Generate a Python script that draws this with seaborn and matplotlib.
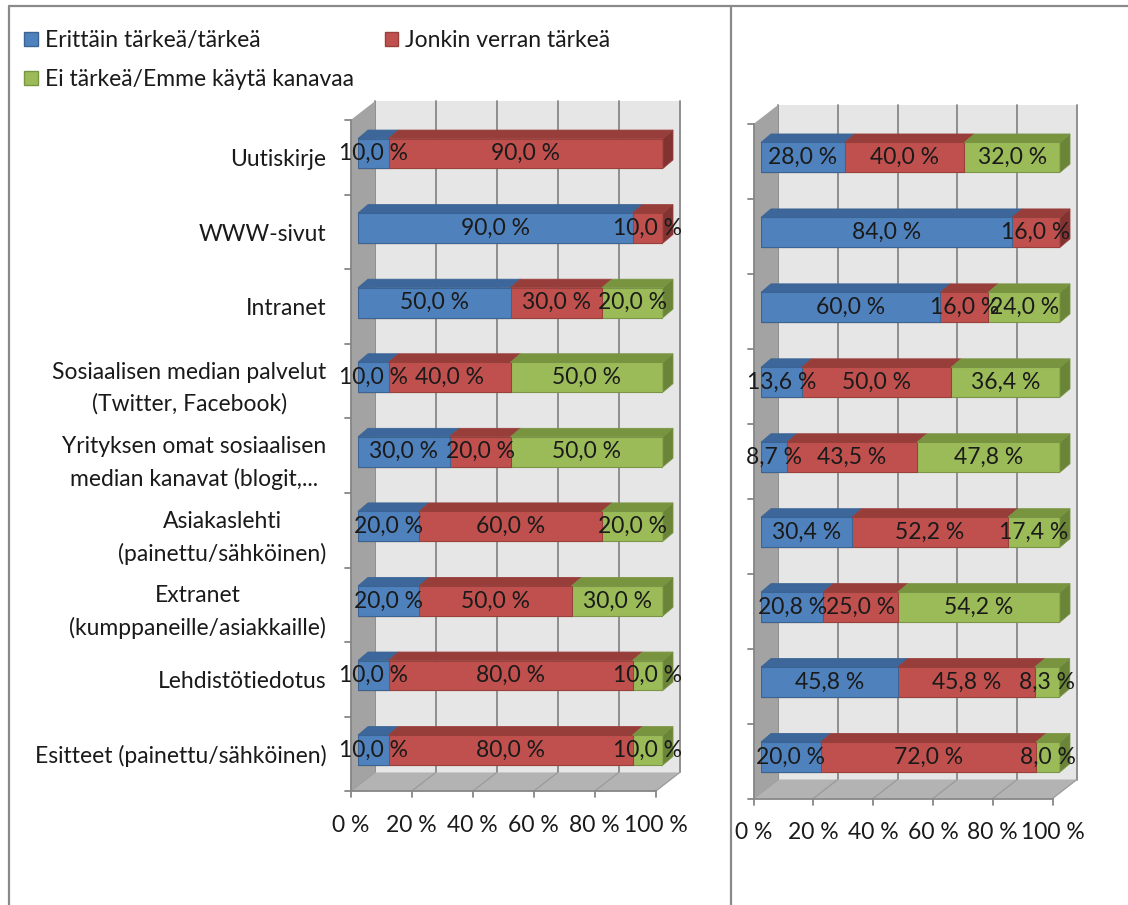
import numpy as np
import pandas as pd
import matplotlib
matplotlib.use("Agg")
import matplotlib.pyplot as plt
import matplotlib.transforms as mtransforms
from matplotlib.patches import Polygon, Patch
from matplotlib.lines import Line2D
import seaborn as sns

# ---- data -------------------------------------------------------------
channels = [
    "Uutiskirje",
    "WWW-sivut",
    "Intranet",
    "Sosiaalisen median palvelut\n(Twitter, Facebook)",
    "Yrityksen omat sosiaalisen\nmedian kanavat (blogit,...",
    "Asiakaslehti\n(painettu/sähköinen)",
    "Extranet\n(kumppaneille/asiakkaille)",
    "Lehdistötiedotus",
    "Esitteet (painettu/sähköinen)",
]
series_names = ["Erittäin tärkeä/tärkeä", "Jonkin verran tärkeä", "Ei tärkeä/Emme käytä kanavaa"]

left_important = [10.0, 90.0, 50.0, 10.0, 30.0, 20.0, 20.0, 10.0, 10.0]
left_somewhat = [90.0, 10.0, 30.0, 40.0, 20.0, 60.0, 50.0, 80.0, 80.0]
left_not = [0.0, 0.0, 20.0, 50.0, 50.0, 20.0, 30.0, 10.0, 10.0]

right_important = [28.0, 84.0, 60.0, 13.6, 8.7, 30.4, 20.8, 45.8, 20.0]
right_somewhat = [40.0, 16.0, 16.0, 50.0, 43.5, 52.2, 25.0, 45.8, 72.0]
right_not = [32.0, 0.0, 24.0, 36.4, 47.8, 17.4, 54.2, 8.3, 8.0]

x_ticks = [0, 20, 40, 60, 80, 100]
x_tick_labels = ["0 %", "20 %", "40 %", "60 %", "80 %", "100 %"]

# ---- style ------------------------------------------------------------
sns.set_theme(style="white")
plt.rcParams["font.family"] = ["Lato", "DejaVu Sans"]
FS = 16.5
TEXT = "#1a1a1a"

face_cols = ["#4f81bd", "#c0504d", "#9bbb59"]
edge_cols = ["#3b6494", "#99403d", "#7a9545"]
top_cols = ["#3d679a", "#973d3a", "#78943f"]
side_cols = ["#345a88", "#823331", "#6a8537"]

WALL_BACK = "#e6e6e6"
WALL_SIDE = "#a3a3a3"
FLOOR = "#b3b3b3"
GRID = "#878787"

BAR_H = 0.40
DEPTH = np.array([10.0, 8.5])     # bar depth (display px)
FRONT = np.array([-7.5, -4.0])    # front plane offset from bar plane
BACK = np.array([17.0, 15.0])     # back wall offset from bar plane

W, H = 1128, 905
fig = plt.figure(figsize=(W / 100, H / 100), dpi=100)
fig.patch.set_facecolor("white")


def px_axes(left, right, top, bottom):
    return fig.add_axes([left / W, 1 - bottom / H, (right - left) / W, (bottom - top) / H])


ax_l = px_axes(358, 663, 116.2, 787.3)
ax_r = px_axes(761, 1060, 120.0, 794.5)

ident = mtransforms.IdentityTransform()


def pt(ax, x, y, off=(0.0, 0.0)):
    return ax.transData.transform((x, y)) + np.asarray(off)


def poly(ax, pts, fc, ec="none", lw=0.0, z=1.0):
    p = Polygon(np.array(pts), closed=True, facecolor=fc, edgecolor=ec, linewidth=lw,
                transform=ident, clip_on=False, zorder=z)
    ax.add_artist(p)


def seg(ax, p0, p1, color=GRID, lw=1.2, z=1.0):
    ln = Line2D([p0[0], p1[0]], [p0[1], p1[1]], color=color, lw=lw,
                transform=ident, clip_on=False, zorder=z)
    ax.add_artist(ln)


def fmt(v):
    return f"{v:.1f}".replace(".", ",") + " %"


def draw_panel(ax, important, somewhat, nots, show_labels):
    n = len(channels)
    df = pd.DataFrame({
        "channel": channels,
        "s1": important,
        "s2": somewhat,
        "s3": nots,
    })
    df["c1"] = df["s1"]
    df["c2"] = df["s1"] + df["s2"]
    df["c3"] = df["s1"] + df["s2"] + df["s3"]

    # stacked bars: cumulative totals drawn from the longest down
    for col, fc, ec in zip(["c3", "c2", "c1"], face_cols[::-1], edge_cols[::-1]):
        sns.barplot(data=df, x=col, y="channel", orient="h", color=fc, saturation=1,
                    width=BAR_H, edgecolor=ec, linewidth=0.8, ax=ax, zorder=3)

    ax.set_xlim(0, 100)
    ax.set_ylim(n - 0.5, -0.5)
    ax.patch.set_visible(False)
    for s in ax.spines.values():
        s.set_visible(False)
    ax.set_xlabel("")
    ax.set_ylabel("")

    y_top, y_bot = -0.5, n - 0.5

    # back wall with vertical gridlines
    poly(ax, [pt(ax, 0, y_top, BACK), pt(ax, 100, y_top, BACK),
              pt(ax, 100, y_bot, BACK), pt(ax, 0, y_bot, BACK)], WALL_BACK, z=0.5)
    for xv in x_ticks:
        seg(ax, pt(ax, xv, y_top, BACK), pt(ax, xv, y_bot, BACK), GRID, 1.3, 0.6)
    # floor
    poly(ax, [pt(ax, 0, y_bot, FRONT), pt(ax, 100, y_bot, FRONT),
              pt(ax, 100, y_bot, BACK), pt(ax, 0, y_bot, BACK)], FLOOR, z=0.7)
    for xv in x_ticks:
        seg(ax, pt(ax, xv, y_bot, FRONT), pt(ax, xv, y_bot, BACK), "#9a9a9a", 0.9, 0.8)
    # left side wall
    poly(ax, [pt(ax, 0, y_bot, FRONT), pt(ax, 0, y_top, FRONT),
              pt(ax, 0, y_top, BACK), pt(ax, 0, y_bot, BACK)], WALL_SIDE, z=0.9)
    # front axis lines and ticks
    seg(ax, pt(ax, 0, y_top, FRONT), pt(ax, 0, y_bot, FRONT), GRID, 1.3, 1.0)
    seg(ax, pt(ax, 0, y_bot, FRONT), pt(ax, 100, y_bot, FRONT), GRID, 1.3, 1.0)
    for k in range(n + 1):
        yv = -0.5 + k
        p = pt(ax, 0, yv, FRONT)
        seg(ax, p, p + np.array([-6, 0]), GRID, 1.3, 1.0)
    for xv in x_ticks:
        p = pt(ax, xv, y_bot, FRONT)
        seg(ax, p, p + np.array([0, -6]), GRID, 1.3, 1.0)

    # 3-D faces of the bars and value labels
    for i in range(n):
        vals = [df.loc[i, "s1"], df.loc[i, "s2"], df.loc[i, "s3"]]
        starts = [0.0, df.loc[i, "c1"], df.loc[i, "c2"]]
        top = i - BAR_H / 2
        bot = i + BAR_H / 2
        last = None
        for k in range(3):
            if vals[k] <= 0:
                continue
            l, r = starts[k], starts[k] + vals[k]
            poly(ax, [pt(ax, l, top), pt(ax, r, top), pt(ax, r, top, DEPTH), pt(ax, l, top, DEPTH)],
                 top_cols[k], edge_cols[k], 0.6, 3.5)
            last = (k, r)
        if last is not None:
            k, r = last
            poly(ax, [pt(ax, r, top), pt(ax, r, bot), pt(ax, r, bot, DEPTH), pt(ax, r, top, DEPTH)],
                 side_cols[k], edge_cols[k], 0.6, 3.5)
        for k in range(3):
            if vals[k] <= 0:
                continue
            ax.text(starts[k] + vals[k] / 2, i, fmt(vals[k]), ha="center", va="center",
                    fontsize=FS, color=TEXT, zorder=6)

    # axis tick labels, shifted onto the front plane
    ax.set_xticks(x_ticks)
    ax.set_xticklabels(x_tick_labels, fontsize=FS, color=TEXT)
    ax.tick_params(axis="x", length=0, pad=17)
    ax.set_yticks(range(n))
    if show_labels:
        ax.set_yticklabels(channels, fontsize=FS, color=TEXT)
        for t in ax.get_yticklabels():
            t.set_multialignment("center")
            t.set_linespacing(1.6)
    else:
        ax.set_yticklabels([])
    ax.tick_params(axis="y", length=0, pad=17.5)
    front_shift = mtransforms.ScaledTranslation(FRONT[0] / 100, FRONT[1] / 100, fig.dpi_scale_trans)
    for lab in ax.get_xticklabels() + ax.get_yticklabels():
        lab.set_transform(lab.get_transform() + front_shift)


draw_panel(ax_l, left_important, left_somewhat, left_not, True)
draw_panel(ax_r, right_important, right_somewhat, right_not, False)

# legend (first row: series 1 and 2, second row: series 3)
handles = [Patch(facecolor=face_cols[i], edgecolor=edge_cols[i], linewidth=1.0) for i in range(3)]
order = [0, 2, 1]
fig.legend([handles[i] for i in order], [series_names[i] for i in order],
           ncol=2, loc="upper left", bbox_to_anchor=(24 / W, 1 - 30 / H),
           frameon=False, fontsize=FS, handlelength=0.6, handleheight=0.6,
           handletextpad=0.3, labelspacing=0.78, columnspacing=1.35,
           borderaxespad=0, borderpad=0, labelcolor=TEXT)

# outer frame and panel divider
FRAME = "#8a8a8a"
fig.add_artist(Line2D([9 / W, 9 / W], [0, 1 - 6 / H], transform=fig.transFigure, color=FRAME, lw=1.6))
fig.add_artist(Line2D([9 / W, 1], [1 - 6 / H, 1 - 6 / H], transform=fig.transFigure, color=FRAME, lw=1.6))
fig.add_artist(Line2D([731 / W, 731 / W], [0, 1 - 6 / H], transform=fig.transFigure, color=FRAME, lw=1.6))

fig.savefig("out.png", dpi=100)
